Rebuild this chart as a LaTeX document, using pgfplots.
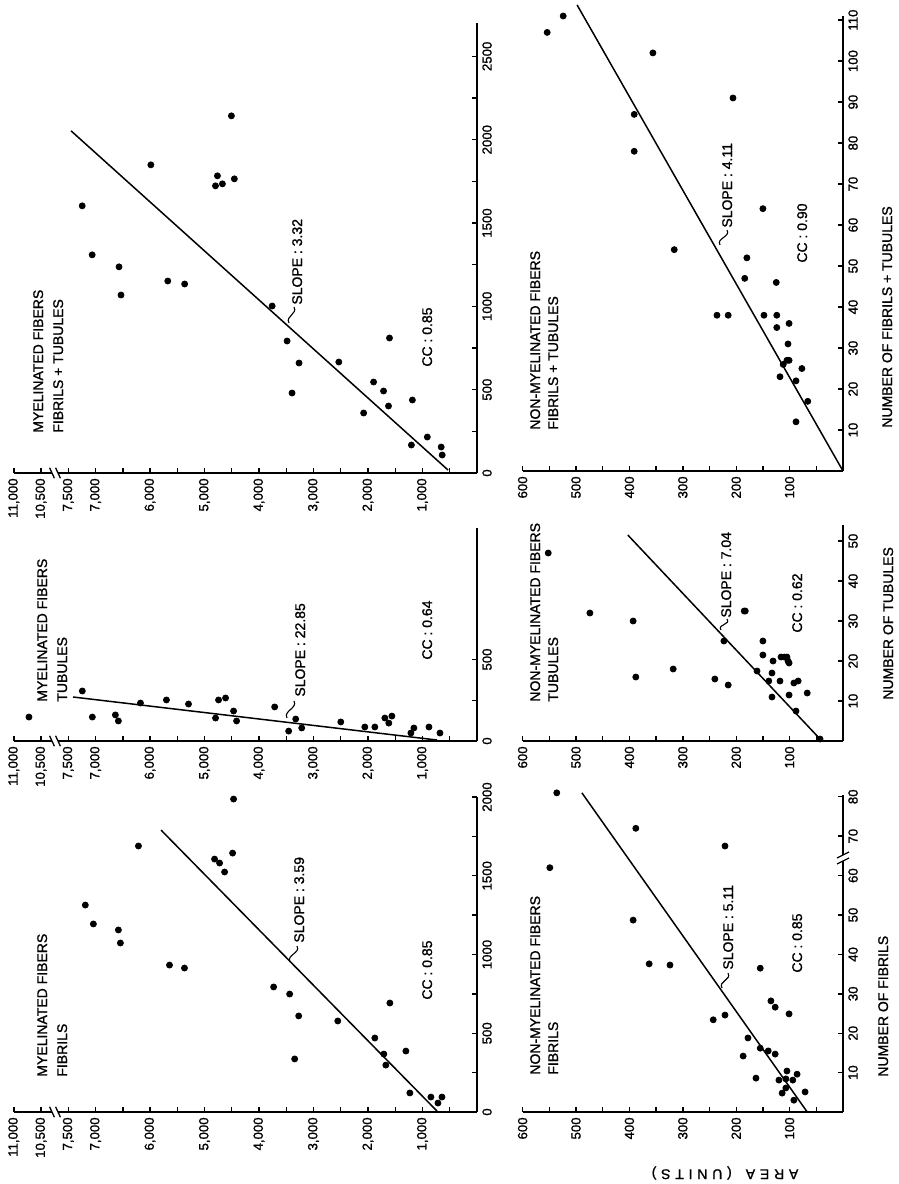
\documentclass[border=0pt]{standalone}
\usepackage{fontspec}
\setmainfont{Liberation Sans}[FakeBold=1.2]
\usepackage{pgfplots}
\usepackage{pgfplotstable}
\pgfplotsset{compat=1.18}

\newcommand\ticks{\fontsize{6.6}{7}\selectfont}
\newcommand\lab{\fontsize{7}{8}\selectfont}

% ---------- myelinated fibers: area vs. counts ----------
\pgfplotstableread{
area n
4507 2143
5985 1849
4763 1783
4799 1723
4672 1735
4453 1765
7245 1603
7062 1309
6569 1237
6533 1068
5675 1152
5365 1134
3759 1002
3485 792
3266 660
3394 480
2536 666
1898 546
1715 492
1624 402
2080 360
1186 438
1606 810
1204 168
912 216
657 156
639 108
}\myelFT

\pgfplotstableread{
area n
10722 147
7243 307
7059 147
6636 160
6581 123
6176 233
5699 252
5294 227
4798 141
4743 252
4614 264
4467 184
4412 123
3713 209
3456 61
3327 135
3217 80
2500 117
2059 86
1875 86
1691 141
1618 110
1562 153
1213 49
1158 80
882 86
680 49
}\myelT

\pgfplotstableread{
area n
4467 1987
6213 1689
4485 1644
4816 1606
4724 1581
4632 1524
7188 1314
7040 1194
6581 1156
6544 1073
5643 933
5368 914
3732 794
3438 749
3272 610
2555 578
1599 692
1875 470
1710 368
1673 298
1305 387
3346 337
1232 121
846 95
643 95
717 57
}\myelF

% ---------- non-myelinated fibers ----------
\pgfplotstableread{
area n
356 102
206 91
391 87
391 78
316 54
150 64
180 52
184 47
125 46
236 38
215 38
148 38
124 38
124 35
101 36
103 31
105 27
101 27
112 26
118 23
77 25
88 22
66 17
88 12
554 107
524 111
}\nonFT

\pgfplotstableread{
area n
552 47
474 32
393 30
388 16
318 18
240 15.5
215 14
223 25
185 32.5
183 32.5
161 17.5
150 25
150 21.5
139 15
133 17
131 20
133 11
118 15
116 21
110 21
105 21
103 20
101 19.5
101 11.5
92 14.5
84 15
88 7.5
67 12
43 0.5
}\nonT

\pgfplotstableread{
area n
536 81
549 62
388 72
221 67.5
393 48.7
363 37.6
324 37.3
155 36.5
243 23.4
221 24.6
135 28.2
127 26.6
101 24.9
178 18.8
155 16.2
140 15.5
127 14.7
187 14.2
163 8.6
120 8.1
105 10.4
107 8.4
94 8.1
86 9.6
114 4.8
107 6.1
92 3.0
71 5.1
}\nonF

\pgfplotsset{
  panel/.style={
    scale only axis, anchor=south east, clip=false,
    axis x line=bottom, axis y line=right,
    axis line style={-, line width=1.1pt, black},
    tick align=inside,
    major tick length=2.6pt, minor tick length=2.6pt,
    tick style={line width=0.7pt, black},
    xticklabel style={rotate=90, anchor=east, inner sep=2.5pt, font=\ticks},
    yticklabel style={rotate=90, anchor=north, inner sep=2.5pt, font=\ticks},
    ymin=0,
  },
  myel/.style={panel, width=231.6pt, xmin=-8500, xmax=0,
    xtick={-8500,-8000,-7500,-7000,-6000,-5000,-4000,-3000,-2000,-1000},
    xticklabels={{11,000},{10,500},{7,500},{7,000},{6,000},{5,000},{4,000},{3,000},{2,000},{1,000}},
    minor xtick={-6500,-5500,-4500,-3500,-2500,-1500,-500}},
  nonmyel/.style={panel, width=160.2pt, xmin=-600, xmax=0,
    xtick={-600,-500,-400,-300,-200,-100},
    xticklabels={600,500,400,300,200,100},
    minor xtick={-550,-450,-350,-250,-150,-50}},
  dots/.style={only marks, mark=*, mark size=1.5pt, black},
  fit/.style={no marks, line width=0.75pt, black},
}

% scale break on an area axis (10,500 placed next to 7,500)
\newcommand\xbreak[2]{%
  \fill[white] ({#1pt-1.3pt},{#2pt-0.9pt}) rectangle ({#1pt+1.3pt},{#2pt+0.9pt});
  \draw[line width=0.65pt] ({#1pt-2.7pt},{#2pt+2.6pt}) -- ({#1pt-0.3pt},{#2pt-2.6pt});
  \draw[line width=0.65pt] ({#1pt+0.3pt},{#2pt+2.6pt}) -- ({#1pt+2.7pt},{#2pt-2.6pt});}

\newcommand\ttl[3]{\node[rotate=90, anchor=base west, inner sep=0pt, font=\lab] at (#1pt,#2pt) {#3};}

\begin{document}
\begin{tikzpicture}
\useasboundingbox (0,0) rectangle (449.5pt,-592pt);

% ===== myelinated, fibrils + tubules =====
\begin{axis}[myel, at={(238.5pt,-236.5pt)}, height=225pt, ymax=2700,
  ytick={0,500,...,2500}, yticklabels={0,500,1000,1500,2000,2500},
  minor ytick={250,750,...,2250}]
\addplot[dots] table[x expr={-\thisrow{area}}, y=n] {\myelFT};
\addplot[fit] coordinates {(-532,18) (-7450,2053)};
\end{axis}

% ===== myelinated, tubules =====
\begin{axis}[myel, at={(238.5pt,-370.5pt)}, height=106.75pt, ymax=1310,
  ytick={0,500}, yticklabels={0,500}, minor ytick={250}]
\addplot[dots] table[x expr={-ifthenelse(\thisrow{area}>9000,\thisrow{area}-2500,\thisrow{area})}, y=n] {\myelT};
\addplot[fit] coordinates {(-734,6) (-7413,270)};
\end{axis}

% ===== myelinated, fibrils =====
\begin{axis}[myel, at={(238.5pt,-556pt)}, height=157.5pt, ymax=2000,
  ytick={0,500,...,2000}, yticklabels={0,500,1000,1500,2000},
  minor ytick={250,750,...,1750}]
\addplot[dots] table[x expr={-\thisrow{area}}, y=n] {\myelF};
\addplot[fit] coordinates {(-734,6) (-5798,1790)};
\end{axis}

% ===== non-myelinated, fibrils + tubules =====
\begin{axis}[nonmyel, at={(421.5pt,-235.5pt)}, height=227.5pt, ymax=111,
  ytick={10,20,...,110}, yticklabels={10,20,30,40,50,60,70,80,90,100,110}]
\addplot[dots] table[x expr={-\thisrow{area}}, y=n] {\nonFT};
\addplot[fit] coordinates {(0,0) (-498,113.7)};
\end{axis}

% ===== non-myelinated, tubules =====
\begin{axis}[nonmyel, at={(421.5pt,-370.5pt)}, height=108pt, ymax=54,
  ytick={10,20,...,50}, yticklabels={10,20,30,40,50}]
\addplot[dots] table[x expr={-\thisrow{area}}, y=n] {\nonT};
\addplot[fit] coordinates {(-43,0.5) (-403,51.5)};
\end{axis}

% ===== non-myelinated, fibrils =====
\begin{axis}[nonmyel, at={(421.5pt,-556pt)}, height=158.6pt, ymax=80.5,
  ytick={10,20,...,80}, yticklabels={10,20,30,40,50,60,70,80}]
\addplot[dots] table[x expr={-\thisrow{area}}, y=n] {\nonF};
\addplot[fit] coordinates {(-67,0) (-489,81)};
\end{axis}

% axis breaks
\xbreak{27.5}{-236.5}
\xbreak{27.5}{-370.5}
\xbreak{27.5}{-556}
\fill[white] (420.6pt,-430.3pt) rectangle (422.4pt,-427.7pt);
\draw[line width=0.65pt] (418.5pt,-432pt) -- (424.5pt,-429pt);
\draw[line width=0.65pt] (418.5pt,-429pt) -- (424.5pt,-426pt);

% panel titles
\ttl{21.5}{-216.5}{MYELINATED FIBERS}
\ttl{31.5}{-216.5}{FIBRILS + TUBULES}
\ttl{23.5}{-351}{MYELINATED FIBERS}
\ttl{33.5}{-351}{TUBULES}
\ttl{23.5}{-538.5}{MYELINATED FIBERS}
\ttl{33.5}{-538.5}{FIBRILS}
\ttl{270}{-215}{NON-MYELINATED FIBERS}
\ttl{279}{-215}{FIBRILS + TUBULES}
\ttl{270}{-351}{NON-MYELINATED FIBERS}
\ttl{279}{-351}{TUBULES}
\ttl{270}{-537.5}{NON-MYELINATED FIBERS}
\ttl{279}{-537.5}{FIBRILS}

% slopes and correlation coefficients
\ttl{151}{-152.5}{SLOPE : 3.32}
\ttl{216}{-183.5}{CC : 0.85}
\ttl{152.5}{-348.5}{SLOPE : 22.85}
\ttl{216}{-330}{CC : 0.64}
\ttl{152}{-471.5}{SLOPE : 3.59}
\ttl{216}{-500}{CC : 0.85}
\ttl{366}{-114}{SLOPE : 4.11}
\ttl{403.5}{-131.5}{CC : 0.90}
\ttl{365.5}{-309}{SLOPE : 7.04}
\ttl{401}{-316.5}{CC : 0.62}
\ttl{366.5}{-485}{SLOPE : 5.11}
\ttl{401}{-486.5}{CC : 0.85}

% leaders from the regression lines to the slope notes
\draw[line width=0.55pt] (144.5pt,-161.5pt) .. controls (142.5pt,-158pt) and (149pt,-157pt) .. (147pt,-153.5pt);
\draw[line width=0.55pt] (143.5pt,-359pt) .. controls (141.5pt,-355.5pt) and (149pt,-354pt) .. (147pt,-350.5pt);
\draw[line width=0.55pt] (145pt,-481pt) .. controls (143pt,-477.5pt) and (150.5pt,-476.5pt) .. (148.5pt,-473pt);
\draw[line width=0.55pt] (360pt,-122.5pt) .. controls (358pt,-119pt) and (365.5pt,-118.5pt) .. (363.5pt,-115pt);
\draw[line width=0.55pt] (360.5pt,-315pt) .. controls (358.5pt,-312pt) and (365.5pt,-312.5pt) .. (363.5pt,-309.5pt);
\draw[line width=0.55pt] (361pt,-494pt) .. controls (359pt,-490.5pt) and (366pt,-490pt) .. (364pt,-486.5pt);

% axis titles
\ttl{446}{-214}{NUMBER OF FIBRILS + TUBULES}
\ttl{446.5}{-350}{NUMBER OF TUBULES}
\ttl{444}{-538.5}{NUMBER OF FIBRILS}
\node[rotate=180, font=\lab, inner sep=0pt] at (362.5pt,-586.5pt)
  {A\hspace{2.4pt}R\hspace{2.4pt}E\hspace{2.4pt}A\hspace{7pt}(\hspace{2.4pt}U\hspace{2.4pt}N\hspace{2.4pt}I\hspace{2.4pt}T\hspace{2.4pt}S\hspace{2.4pt})};
\end{tikzpicture}
\end{document}
